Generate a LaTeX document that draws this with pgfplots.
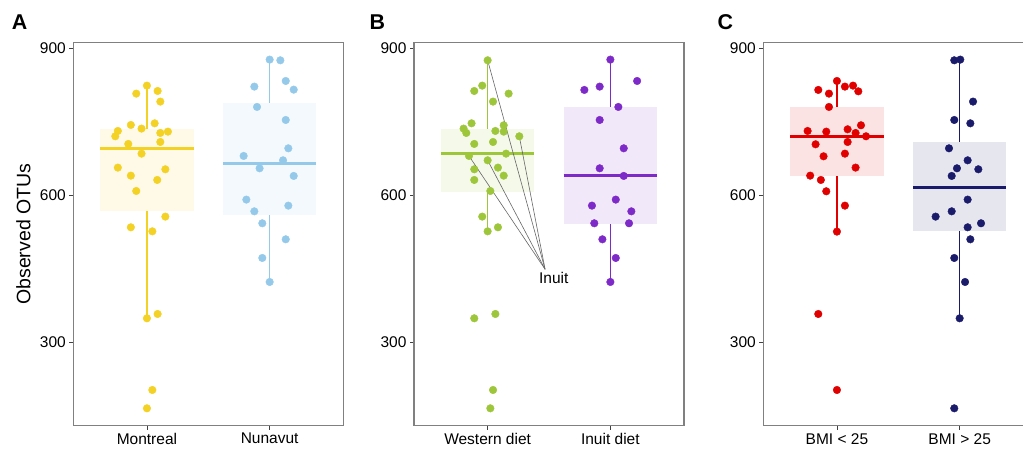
\documentclass[border=0pt]{standalone}
\usepackage{fontspec}
\setmainfont{Liberation Sans}
\usepackage{pgfplots}
\pgfplotsset{compat=1.18}

\definecolor{cMon}{HTML}{F4D125}
\definecolor{cNun}{HTML}{94C9EA}
\definecolor{cWes}{HTML}{9DC63B}
\definecolor{cInu}{HTML}{7D2AC8}
\definecolor{cLow}{HTML}{E00000}
\definecolor{cHig}{HTML}{1B1B6B}

% #1 colour, #2 left, #3 centre, #4 right, #5 lower whisker, #6 q1, #7 median, #8 q3, #9 upper whisker
\newcommand{\qbox}[9]{%
  \addplot[draw=none, fill=#1, fill opacity=0.11] coordinates {(#2,#6) (#4,#6) (#4,#8) (#2,#8)} -- cycle;
  \addplot[#1, line width=1.6pt] coordinates {(#3,#8) (#3,#9)};
  \addplot[#1, line width=1.6pt] coordinates {(#3,#5) (#3,#6)};
  \addplot[#1, line width=3pt] coordinates {(#2,#7) (#4,#7)};
}

\pgfplotsset{panel/.style={
  anchor=south west,
  scale only axis, width=270pt, height=383pt,
  xmin=0.4, xmax=2.6, ymin=129.8, ymax=911.4,
  xtick={1,2}, ytick={300,600,900},
  tick align=outside, xtick pos=bottom, ytick pos=left,
  major tick length=4pt,
  every tick/.style={black!75, line width=0.8pt},
  axis line style={draw=black!50, line width=1.2pt},
  ticklabel style={font=\fontsize{15.5}{18}\selectfont, text=black},
  /pgf/number format/assume math mode=true,
  clip=false,
  pts/.style={only marks, mark=*, mark size=3.8pt},
}}

\begin{document}
\begin{tikzpicture}
\useasboundingbox (0,0) rectangle (1023pt,451pt);

% ---------------- Panel A ----------------
\begin{axis}[panel, at={(73.3pt,25.3pt)},
  xticklabels={Montreal, Nunavut},
  ylabel={Observed OTUs},
  ylabel style={at={(axis description cs:-0.185,0.5)}, anchor=center, font=\fontsize{19.5}{22}\selectfont}]
\qbox{cMon}{0.62}{1}{1.38}{349}{568}{694.6}{736.1}{823.8}
\qbox{cNun}{1.62}{2}{2.38}{423.1}{560.5}{664}{789.1}{876.9}
\addplot[pts, cMon] coordinates {
(1,823.8)(0.913,807.5)(1.087,812.9)(1.109,791.2)(0.869,743.5)(1.063,746.9)(0.956,736.1)(0.763,731.3)(0.742,720.4)(1.109,727.2)(1.171,729.9)(0.848,704.8)(1.109,708.8)(0.956,685)(0.763,656.5)(1.150,653.1)(0.869,640.1)(1.084,631.3)(0.913,608.8)(1.150,556.5)(0.869,534.7)(1.044,526.5)(1,349)(1.087,357.8)(1.044,202.7)(1,165.3)};
\addplot[pts, cNun] coordinates {
(2,876.9)(2.087,875.5)(2.131,833.3)(1.875,821.8)(2.196,815.6)(1.897,780.3)(2.131,753.7)(2.152,695.9)(1.788,680.3)(2.109,671.4)(1.918,655.1)(2.196,639.5)(1.810,591.2)(2.152,578.9)(1.875,567.3)(1.940,542.9)(2.131,510.2)(1.940,472.1)(2,423.1)};
\end{axis}

% ---------------- Panel B ----------------
\begin{axis}[panel, at={(414pt,25.3pt)},
  xticklabels={Western diet, Inuit diet}]
\qbox{cWes}{0.62}{1}{1.38}{526.5}{606.8}{685}{736.1}{875.5}
\qbox{cInu}{1.62}{2}{2.38}{423.1}{541.5}{639.5}{781}{876.9}
\addplot[pts, cWes] coordinates {
(1,875.5)(0.956,823.8)(0.891,812.9)(1.171,807.5)(1.044,791.2)(0.869,746.9)(0.804,736.1)(0.826,727.2)(1.131,742.9)(1.063,731.3)(1.131,729.9)(1.258,720.4)(0.891,704.8)(1.044,708.8)(1.150,685)(0.848,680.3)(1,671.4)(0.891,653.1)(1.084,656.5)(1.131,640.1)(0.891,631.3)(1.022,608.8)(0.956,556.5)(1.084,534.7)(1,526.5)(0.891,349)(1.063,357.8)(1.044,202.7)(1.022,165.3)};
\addplot[pts, cInu] coordinates {
(2,876.9)(2.218,833.3)(1.788,815)(1.913,821.8)(2.065,780.3)(1.913,753.7)(2.109,695.9)(1.913,655.1)(2.109,639.5)(2.044,591.2)(1.850,578.9)(2.171,567.3)(1.869,542.9)(2.152,542.9)(1.935,510.2)(2.044,472.1)(2,423.1)};
\addplot[black!60, line width=0.6pt] coordinates {(1,875.5) (1.468,449)};
\addplot[black!60, line width=0.6pt] coordinates {(1.258,720.4) (1.468,449)};
\addplot[black!60, line width=0.6pt] coordinates {(0.848,680.3) (1.468,449)};
\addplot[black!60, line width=0.6pt] coordinates {(1,671.4) (1.468,449)};
\node[anchor=west, inner sep=0pt, font=\fontsize{15.5}{18}\selectfont] at (axis cs:1.418,431.3) {Inuit};
\end{axis}

% ---------------- Panel C ----------------
\begin{axis}[panel, at={(763.3pt,25.3pt)},
  xticklabels={BMI < 25, BMI > 25}]
\qbox{cLow}{0.62}{1}{1.38}{525.9}{638.8}{720.4}{781}{833.3}
\qbox{cHig}{1.62}{2}{2.38}{349}{527.9}{615}{709.5}{876.9}
\addplot[pts, cLow] coordinates {
(1,833.3)(0.848,815)(0.935,807.5)(1.065,821.8)(1.131,823.8)(1.174,812.2)(0.935,780.3)(1.196,742.9)(0.761,731.3)(0.913,729.9)(1.087,734.7)(1.152,727.2)(1.237,720.4)(0.826,704.1)(1.087,708.8)(0.891,679.6)(1.065,685)(1.152,656.5)(0.782,640.1)(0.869,631.3)(0.913,608.2)(1.065,578.9)(1,525.9)(0.848,357.8)(1,202.7)};
\addplot[pts, cHig] coordinates {
(1.956,875.5)(2.005,876.9)(2.109,791.2)(1.956,753.7)(2.087,746.9)(1.913,695.9)(2.065,671.4)(1.978,655.1)(2.152,653.1)(1.935,639.5)(2.065,591.2)(1.804,556.5)(1.935,567.3)(2.174,542.9)(2.065,534.7)(2.087,510.2)(1.956,472.1)(2.044,423.1)(2,349)(1.956,165.3)};
\end{axis}

% panel letters
\node[anchor=base west, inner sep=0pt, font=\fontsize{21.4}{24}\selectfont\bfseries] at (11.7pt,421.7pt) {A};
\node[anchor=base west, inner sep=0pt, font=\fontsize{21.4}{24}\selectfont\bfseries] at (369.3pt,421.7pt) {B};
\node[anchor=base west, inner sep=0pt, font=\fontsize{21.4}{24}\selectfont\bfseries] at (717.3pt,421.7pt) {C};
\end{tikzpicture}
\end{document}
